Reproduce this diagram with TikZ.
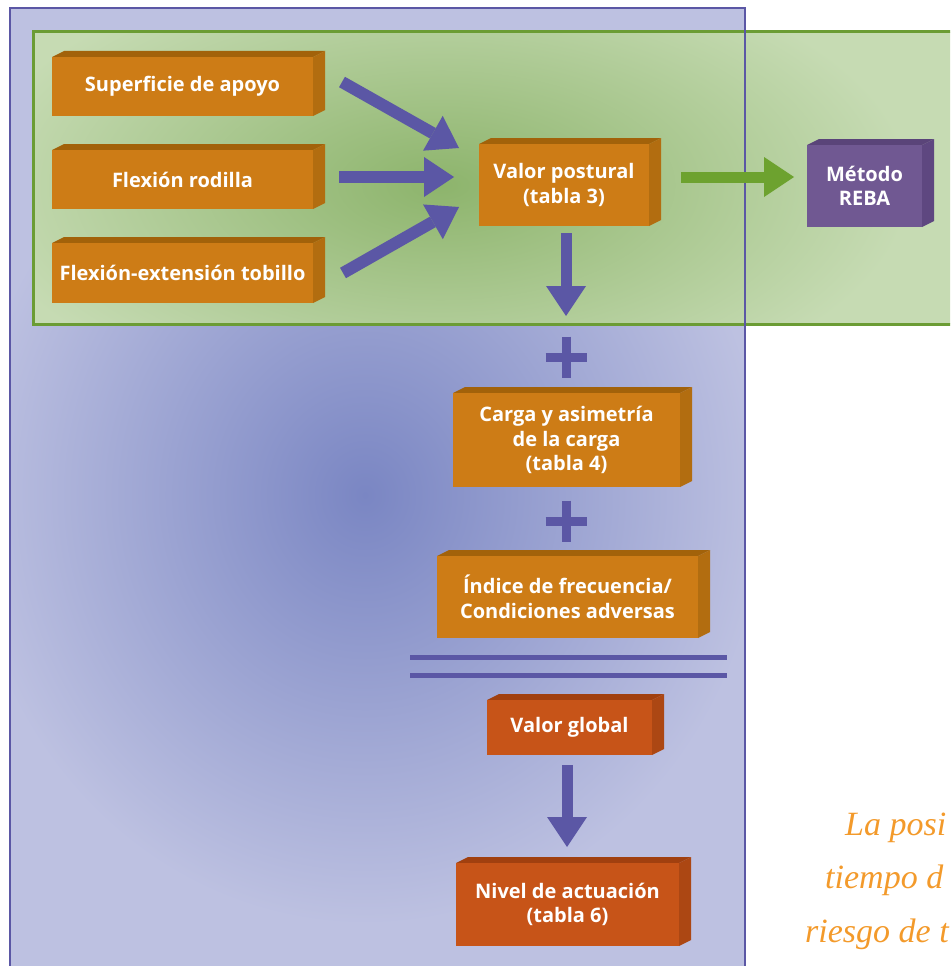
\documentclass[tikz,border=0pt]{standalone}
\usepackage{fontspec}
\setmainfont{Liberation Serif}
\newfontfamily\boxfont{Open Sans}
\usetikzlibrary{calc}
\definecolor{bluebg}{HTML}{BDC1E1}
\definecolor{bluein}{HTML}{7A86C3}
\definecolor{blueline}{HTML}{5B57A5}
\definecolor{greenbg}{HTML}{C6DBB3}
\definecolor{greenin}{HTML}{8DB46C}
\definecolor{greenline}{HTML}{6B9C34}
\definecolor{greenarrow}{HTML}{6DA22F}
\definecolor{ofront}{HTML}{CD7C16}
\definecolor{otop}{HTML}{A2620A}
\definecolor{oside}{HTML}{B26D10}
\definecolor{rfront}{HTML}{C75418}
\definecolor{rtop}{HTML}{A1400F}
\definecolor{rside}{HTML}{AC4713}
\definecolor{pfront}{HTML}{705892}
\definecolor{ptop}{HTML}{5A4479}
\definecolor{pside}{HTML}{5E4780}
\definecolor{quote}{HTML}{F39A2B}
\tikzset{
  cubeface/.style={rectangle, inner sep=0pt, text=white, align=center,
    font=\boxfont\fontsize{20}{24.5}\selectfont\bfseries},
  quotetext/.style={anchor=base west, text=quote, inner sep=0pt,
    font=\fontsize{34}{40}\selectfont\itshape},
  plusbar/.style={blueline, line width=9pt},
  eqbar/.style={blueline, line width=5pt}
}
% #1 name, #2 x1, #3 y1, #4 x2, #5 y2, #6 front, #7 top, #8 side, #9 text
\newcommand\cubebox[9]{%
  \fill[#7] (#2,#3) -- (#2+12,#3-6) -- (#4+12,#3-6) -- (#4,#3) -- cycle;
  \fill[#8] (#4,#3) -- (#4+12,#3-6) -- (#4+12,#5-6) -- (#4,#5) -- cycle;
  \node[cubeface, fill=#6, minimum width=#4-#2, minimum height=#5-#3]
    (#1) at ({(#2+#4)/2},{(#3+#5)/2}) {#9};
}
% #1 color, #2 shaft width, #3 start, #4 tip
\newcommand\blockarrow[4]{%
  \draw[#1, line width=#2] (#3) -- ($(#4)!30pt!(#3)$);
  \fill[#1] ($($(#4)!30pt!(#3)$)!20pt!90:(#4)$) -- (#4)
    -- ($($(#4)!30pt!(#3)$)!20pt!-90:(#4)$) -- cycle;
}
\begin{document}
\begin{tikzpicture}[x=1pt,y=-1pt]
\useasboundingbox (0,0) rectangle (950,966);
\clip (0,0) rectangle (950,966);
% blue panel
\fill[bluebg] (10,8) rectangle (745,990);
\begin{scope}
  \clip (10,8) rectangle (745,990);
  \shade[inner color=bluein, outer color=bluebg] (365,495) ellipse (400 and 430);
\end{scope}
% green panel
\fill[greenbg] (33,32) rectangle (970,324);
\begin{scope}
  \clip (33,32) rectangle (970,324);
  \shade[inner color=greenin, outer color=greenbg] (440,185) ellipse (470 and 230);
\end{scope}
\draw[greenline, line width=3pt] (33,32) rectangle (975,324);
\draw[blueline, line width=2.5pt] (10,990) -- (10,8) -- (745,8) -- (745,990);

% boxes
\cubebox{sup}{52}{57}{313}{116}{ofront}{otop}{oside}{Superficie de apoyo}
\cubebox{rod}{52}{150}{313}{209}{ofront}{otop}{oside}{Flexión rodilla}
\cubebox{tob}{52}{243}{313}{303}{ofront}{otop}{oside}{Flexión-extensión tobillo}
\cubebox{vp}{479}{144}{649}{226}{ofront}{otop}{oside}{Valor postural\\(tabla 3)}
\cubebox{reba}{807}{145}{922}{227}{pfront}{ptop}{pside}{Método\\REBA}
\cubebox{carga}{453}{393}{680}{487}{ofront}{otop}{oside}{Carga y asimetría\\de la carga\\(tabla 4)}
\cubebox{ind}{437}{556}{698}{638}{ofront}{otop}{oside}{Índice de frecuencia/\\Condiciones adversas}
\cubebox{vg}{487}{700}{652}{755}{rfront}{rtop}{rside}{Valor global}
\cubebox{niv}{456}{863}{679}{946}{rfront}{rtop}{rside}{Nivel de actuación\\(tabla 6)}

% connector end points
\coordinate (a1s) at (342,82);  \coordinate (a1e) at (459,148);
\coordinate (a2s) at (339,177); \coordinate (a2e) at (454,177);
\coordinate (a3s) at (343,273); \coordinate (a3e) at (459,207);
\coordinate (a4s) at (566,233); \coordinate (a4e) at (566,316);
\coordinate (a5s) at (681,177); \coordinate (a5e) at (794,177);
\coordinate (a6s) at (567,765); \coordinate (a6e) at (567,847);

\blockarrow{blueline}{12pt}{a1s}{a1e}
\blockarrow{blueline}{12pt}{a2s}{a2e}
\blockarrow{blueline}{12pt}{a3s}{a3e}
\blockarrow{blueline}{11pt}{a4s}{a4e}
\blockarrow{greenarrow}{11pt}{a5s}{a5e}
\blockarrow{blueline}{11pt}{a6s}{a6e}

% plus signs
\coordinate (p1) at (566,357);
\coordinate (p2) at (566,521);
\foreach \p in {p1,p2}{
  \draw[plusbar] ($(\p)+(-20.5,0)$) -- ($(\p)+(20.5,0)$);
  \draw[plusbar] ($(\p)+(0,-20.5)$) -- ($(\p)+(0,20.5)$);
}
% equals sign
\coordinate (e1a) at (410,657); \coordinate (e1b) at (727,657);
\coordinate (e2a) at (410,675); \coordinate (e2b) at (727,675);
\draw[eqbar] (e1a) -- (e1b);
\draw[eqbar] (e2a) -- (e2b);

% quote text (cut at right edge)
\node[quotetext] (q1) at (845,835) {La posi};
\node[quotetext] (q2) at (825,888) {tiempo d};
\node[quotetext] (q3) at (805,942) {riesgo de t};
\end{tikzpicture}
\end{document}
